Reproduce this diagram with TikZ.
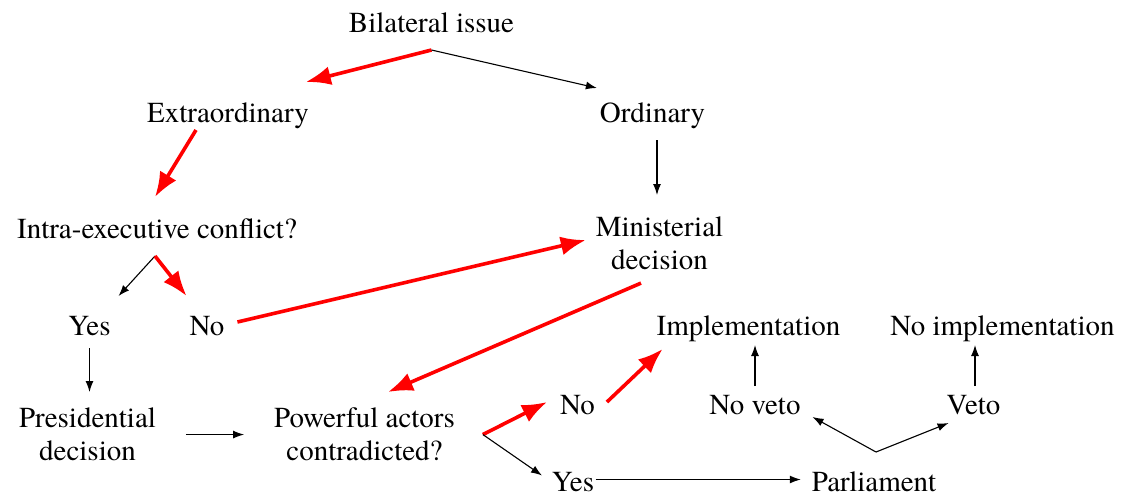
\documentclass[tikz,border=0pt]{standalone}
\usepackage{fontspec}
\setmainfont{texgyretermes}[
  Extension=.otf,
  UprightFont=*-regular,
  BoldFont=*-bold,
  ItalicFont=*-italic]
\usepackage{xcolor}
\usetikzlibrary{arrows.meta, calc, positioning}
\definecolor{pathred}{HTML}{FF0000}
\tikzset{
  % thin black arrow
  garr/.style={
    line width = 1.1pt
    , -{Latex[length=11pt,width=8pt]}
  },
  % thick red arrow (path that was taken)
  rarr/.style={
    color=pathred
    , line width = 3.6pt
    , -{Latex[length=25pt,width=19pt]}
  },
}
\tikzset{
  % one line label
  step label/.style={
    font=\fontsize{29}{33}\selectfont
    , inner sep=0pt
    , outer sep=0pt
    , text height=20pt
    , text depth=6pt
    , anchor=base
  },
  % two line label
  step label two/.style={
    font=\fontsize{29}{33}\selectfont
    , inner sep=0pt
    , outer sep=0pt
    , align=center
    , anchor=north
  },
}

\begin{document}
\begin{tikzpicture}[x=1pt, y=-1pt]
        \useasboundingbox (0,0) rectangle (1121,496);
        \node[step label] (bil) at (431.5,32) {Bilateral issue};
        \node[step label] (extra) at (228,122) {Extraordinary};
        \node[step label] (ord) at (652.5,122) {Ordinary};
        \node[step label] (intra) at (157,238) {Intra-executive conflict?};
        \node[step label two] (mini) at (659.5,217) {Ministerial\\decision};
        \node[step label] (yesa) at (89.5,335) {Yes};
        \node[step label] (noa) at (207,335) {No};
        \node[step label] (impl) at (748.5,335) {Implementation};
        \node[step label] (noimpl) at (1002.5,335) {No implementation};
        \node[step label two] (pres) at (87.5,408) {Presidential\\decision};
        \node[step label two] (pow) at (364.5,408) {Powerful actors\\contradicted?};
        \node[step label] (nob) at (577.5,414) {No};
        \node[step label] (noveto) at (755,414) {No veto};
        \node[step label] (veto) at (973.5,414) {Veto};
        \node[step label, text depth=3pt] (yesb) at (573,491) {Yes};
        \node[step label, text depth=3pt] (parl) at (874,491) {Parliament};
        % split points
        \coordinate (bsplit) at ([yshift=-12pt]bil.south);
        \coordinate (isplit) at ([shift={(-2pt,-12pt)}]intra.south);
        \coordinate (psplit) at ([xshift=28pt]pow.east);
        \coordinate (vsplit) at ([shift={(2pt,19pt)}]parl.north);
          \draw[rarr]
            (bsplit)
            to
            ([shift={(-3pt,20pt)}]extra.north east);
          \draw[garr]
            (bsplit)
            to
            ([shift={(-3pt,14pt)}]ord.north west);
          \draw[rarr]
            ([shift={(-32pt,-2pt)}]extra.south)
            to
            ([shift={(-2pt,21pt)}]intra.north);
          \draw[garr]
            ([shift={(4.5pt,-12pt)}]ord.south)
            to
            ([shift={(-2.5pt,22pt)}]mini.north);
          \draw[garr]
            (isplit)
            to
            ([shift={(8pt,19pt)}]yesa.north east);
          \draw[rarr]
            (isplit)
            to
            ([shift={(-3pt,19pt)}]noa.north west);
          \draw[rarr]
            ([shift={(13pt,6pt)}]noa.east)
            to
            ([shift={(-10pt,3.5pt)}]mini.west);
          \draw[rarr]
            ([shift={(-18.5pt,-13pt)}]mini.south)
            to
            ([shift={(23.5pt,16pt)}]pow.north);
          \draw[garr]
            ([yshift=-7pt]yesa.south)
            to
            ([shift={(2pt,16pt)}]pres.north);
          \draw[garr]
            ([xshift=30pt]pres.east)
            to
            ([xshift=-30pt]pow.west);
          \draw[rarr]
            (psplit)
            to
            ([shift={(-13pt,5pt)}]nob.west);
          \draw[garr]
            (psplit)
            to
            ([shift={(-10pt,7pt)}]yesb.west);
          \draw[rarr]
            ([shift={(12pt,5pt)}]nob.east)
            to
            ([shift={(6pt,-8pt)}]impl.south west);
          \draw[garr]
            ([shift={(1.5pt,3pt)}]yesb.east)
            to
            ([shift={(-11pt,3pt)}]parl.west);
          \draw[garr]
            ([yshift=8pt]noveto.north)
            to
            ([shift={(6.5pt,-4pt)}]impl.south);
          \draw[garr]
            ([shift={(1.5pt,8pt)}]veto.north)
            to
            ([shift={(-27.5pt,-4pt)}]noimpl.south);
          \draw[garr]
            (vsplit)
            to
            ([shift={(12pt,3pt)}]noveto.south east);
          \draw[garr]
            (vsplit)
            to
            ([shift={(2pt,-3pt)}]veto.south west);
      \end{tikzpicture}
\end{document}
